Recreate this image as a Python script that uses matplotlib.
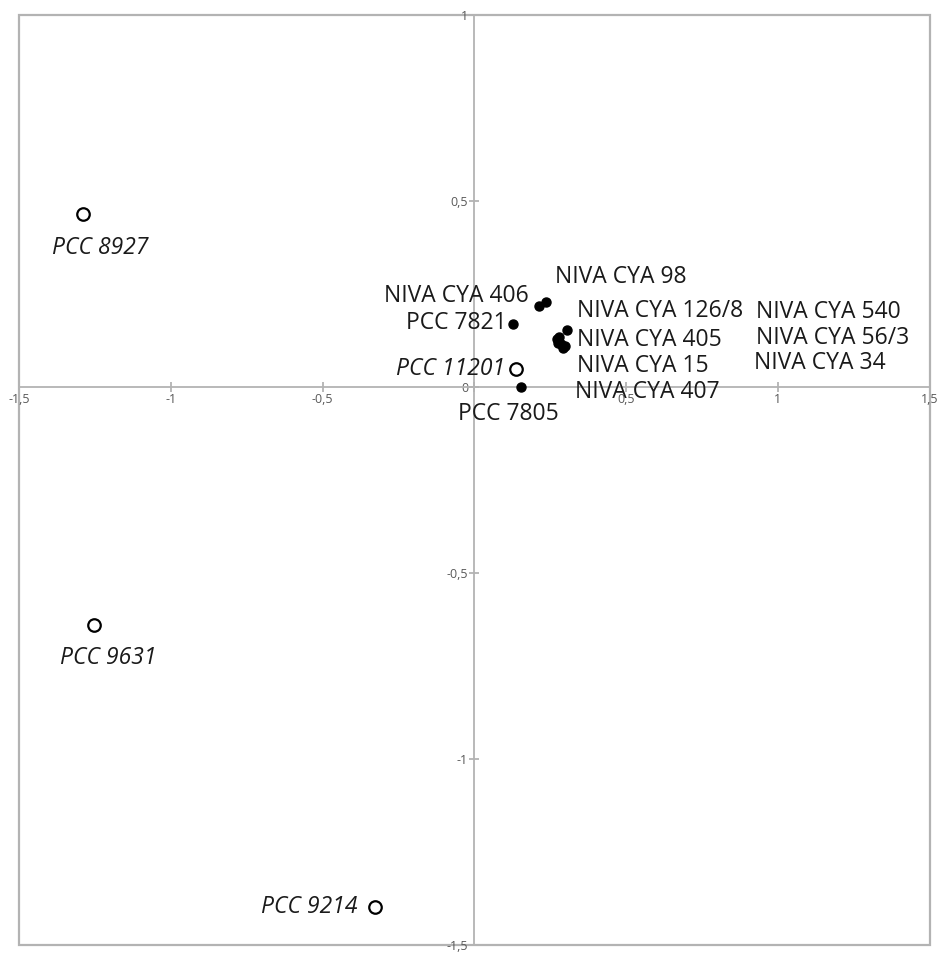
import matplotlib
matplotlib.use("Agg")
import matplotlib.pyplot as plt
from matplotlib.patches import Rectangle
from matplotlib.ticker import FuncFormatter

# strain coordinates on the first two axes
strain_names = [
    "PCC 8927", "PCC 9631", "PCC 9214", "PCC 11201", "PCC 7805", "PCC 7821",
    "NIVA CYA 406", "NIVA CYA 98", "NIVA CYA 126/8", "NIVA CYA 405",
    "NIVA CYA 15", "NIVA CYA 407", "NIVA CYA 540", "NIVA CYA 56/3", "NIVA CYA 34",
]
axis1 = [-1.290, -1.254, -0.328, 0.138, 0.154, 0.128,
         0.213, 0.236, 0.305, 0.272, 0.285, 0.292, 0.279, 0.298, 0.276]
axis2 = [0.465, -0.640, -1.398, 0.048, 0.000, 0.169,
         0.218, 0.228, 0.153, 0.129, 0.116, 0.105, 0.134, 0.110, 0.118]
open_marker = [True, True, True, True, False, False,
               False, False, False, False, False, False, False, False, False]

# label placement (pixel offsets from the point, alignment)
label_offsets = [
    (18, -34, "center"), (15, -33, "center"), (-17, 0, "right"),
    (-11, 0, "right"), (-13, -27, "center"), (-7, 1, "right"),
    (-10, 10, "right"), (9, 25, "left"), (10, 19, "left"), (20, -1, "left"),
    (16, -22, "left"), (12, -44, "left"), (197, 25, "left"),
    (191, 8, "left"), (196, -20, "left"),
]

plt.rcParams['font.family'] = ['Open Sans', 'DejaVu Sans']

fig = plt.figure(figsize=(9.4, 9.56), dpi=100)
ax = fig.add_axes([0.0202, 0.0115, 0.9688, 0.9728])
ax.set_xlim(-1.5, 1.5)
ax.set_ylim(-1.5, 1.0)

for side in ["top", "right"]:
    ax.spines[side].set_visible(False)
for side in ["left", "bottom"]:
    ax.spines[side].set_position("zero")
    ax.spines[side].set_color("#b3b3b3")
    ax.spines[side].set_linewidth(1.3)

# outer frame
ax.add_patch(Rectangle((0, 0), 1, 1, transform=ax.transAxes, fill=False,
                       edgecolor="#b3b3b3", linewidth=1.6, clip_on=False))

ax.set_xticks([-1.5, -1, -0.5, 0, 0.5, 1, 1.5])
ax.set_yticks([-1.5, -1, -0.5, 0, 0.5, 1])
comma = FuncFormatter(lambda v, p: f"{v:g}".replace(".", ","))
ax.xaxis.set_major_formatter(comma)
ax.yaxis.set_major_formatter(comma)
ax.tick_params(direction="inout", length=7, width=1.3, color="#b3b3b3",
               labelsize=9, labelcolor="#595959", pad=1)
for lab in ax.get_xticklabels():
    if lab.get_text() == "0":
        lab.set_visible(False)

for name, x, y, is_open, (dx, dy, ha) in zip(strain_names, axis1, axis2,
                                             open_marker, label_offsets):
    if is_open:
        ax.plot(x, y, "o", ms=9, mfc="white", mec="black", mew=1.6, zorder=3)
        style = "italic"
    else:
        ax.plot(x, y, "o", ms=6.5, color="black", zorder=3)
        style = "normal"
    ax.annotate(name, (x, y), xytext=(dx, dy), textcoords="offset pixels",
                ha=ha, va="center", fontsize=16.5, style=style, color="#1a1a1a")

fig.savefig("out.png", dpi=100, facecolor="white")
